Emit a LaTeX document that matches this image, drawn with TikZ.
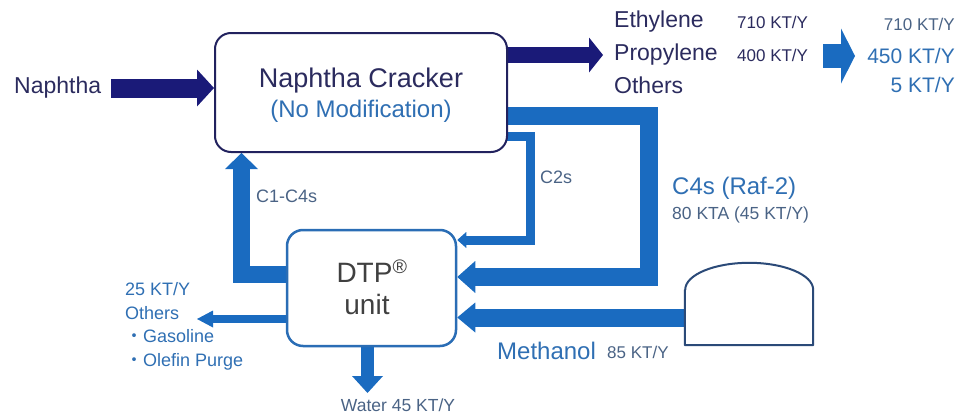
\documentclass[tikz,border=0pt]{standalone}
\usepackage{fontspec}
\setsansfont{Liberation Sans}
\newfontfamily\cjk{Noto Sans CJK JP}
\usetikzlibrary{arrows.meta, calc, backgrounds}
\definecolor{cnavy}{HTML}{1A1A78}
\definecolor{cnavyline}{HTML}{22225E}
\definecolor{cblue}{HTML}{1A6BC0}
\definecolor{cdtp}{HTML}{2A6DB5}
\definecolor{ctank}{HTML}{2B4A78}
\definecolor{cnavytxt}{HTML}{2B2B5E}
\definecolor{cbluetxt}{HTML}{2F6FB3}
\definecolor{cgreytxt}{HTML}{4A6385}
\definecolor{cdark}{HTML}{404040}
\tikzset{
  every picture/.style={font=\sffamily},
  txt/.style={inner sep=0pt, font=\sffamily\fontsize{#1}{#1}\selectfont},
  crkbox/.style={draw=cnavyline, fill=white, line width=2pt, rounded corners=16pt, minimum width=292, minimum height=119},
  dtpbox/.style={draw=cdtp, fill=white, line width=2.5pt, rounded corners=16pt, minimum width=169, minimum height=116},
  tankline/.style={draw=ctank, fill=white, line width=2pt, line join=round},
  navyflow/.style={draw=cnavy, line width=19pt, -{Triangle[length=17pt, width=37pt, line width=0pt]}},
  blueflow/.style={draw=cblue, line width=18pt, line join=miter, -{Triangle[length=18pt, width=32pt, line width=0pt]}},
  thinflow/.style={draw=cblue, line width=9pt, line join=miter, -{Triangle[length=9pt, width=16pt, line width=0pt]}},
}

\begin{document}
\begin{tikzpicture}[x=1pt, y=-1pt]
  \useasboundingbox (0,0) rectangle (964,415);
  \node[crkbox] (crk) at (361,92.5) {};
  \node[txt=27, text=cnavytxt] (crkt) at (361,81) {Naphtha Cracker};
  \node[txt=24, text=cbluetxt] (crkn) at (361,111) {(No Modification)};
  \node[dtpbox] (dtp) at (371.5,288) {};
  \node[txt=28, text=cdark] (dtpt) at (372,271) {DTP\textsuperscript{\textregistered}};
  \node[txt=28, text=cdark] (dtpu) at (367,304) {unit};
  \node[minimum width=128, minimum height=55, inner sep=0pt] (tank) at (749,317.5) {};
  \draw[tankline] (tank.north west) -- (tank.south west) -- (tank.south east) -- (tank.north east)
    arc[start angle=0, end angle=180, x radius=64pt, y radius=27pt] -- cycle;

  \node[txt=23, text=cnavytxt, anchor=west] (naph) at (14,88) {Naphtha};
  \node[txt=23, text=cnavytxt, anchor=west] (eth) at (614,22) {Ethylene};
  \node[txt=23, text=cnavytxt, anchor=west] (prop) at (614,55) {Propylene};
  \node[txt=23, text=cnavytxt, anchor=west] (oth) at (614,85) {Others};
  \node[txt=17, text=cnavytxt, anchor=west] (q710) at (737,22) {710 KT/Y};
  \node[txt=17, text=cnavytxt, anchor=west] (q400) at (737,55) {400 KT/Y};
  \node[txt=17, text=cgreytxt, anchor=east] (r710) at (955,24) {710 KT/Y};
  \node[txt=21, text=cbluetxt, anchor=east] (r450) at (955,56) {450 KT/Y};
  \node[txt=21, text=cbluetxt, anchor=east] (r5) at (955,85) {5 KT/Y};
  \node[txt=18, text=cgreytxt, anchor=west] (lc1) at (256,196) {C1-C4s};
  \node[txt=18, text=cgreytxt, anchor=west] (lc2) at (540,177) {C2s};
  \node[txt=24, text=cbluetxt, anchor=west] (lc4) at (672,188) {C4s (Raf-2)};
  \node[txt=17.5, text=cgreytxt, anchor=west] (lc4q) at (672,215) {80 KTA (45 KT/Y)};
  \node[txt=24, text=cbluetxt, anchor=west] (meth) at (497,351) {Methanol};
  \node[txt=17, text=cgreytxt, anchor=west] (methq) at (607,352) {85 KT/Y};
  \node[txt=18, text=cbluetxt, anchor=west, align=left, font=\sffamily\fontsize{18}{23.5}\selectfont] (purge) at (125,326.5)
    {25 KT/Y\\Others\\{\cjk ・}Gasoline\\{\cjk ・}Olefin Purge};
  \node[txt=17.5, text=cgreytxt] (wat) at (398,405) {Water 45 KT/Y};

  \coordinate (qa) at (823,56);
  \coordinate (qb) at (855,56);
  \coordinate (c4) at (649,277);
  \coordinate (c2) at (530,240);
  \coordinate (c1) at (241.5,274);
  \coordinate (pe) at (197,319);
  \coordinate (we) at (367.5,393);

  \begin{scope}[on background layer]
    \draw[navyflow] ([xshift=10pt]naph.east) -- (naph.east -| crk.west);
    \draw[navyflow, line width=16pt, -{Triangle[length=14pt, width=35pt, line width=0pt]}] ($(crk.east)+(-10,-37.5)$) -- ([xshift=-11pt]prop.west);
    \draw[blueflow, line width=24pt, -{Triangle[length=14pt, width=55pt, line width=0pt]}] (qa) -- (qb);
    \draw[blueflow] ($(crk.east)+(-10,23.5)$) -| (c4) -- (c4 -| dtp.east);
    \draw[thinflow] ($(crk.east)+(-10,44)$) -| (c2) -- (c2 -| dtp.east);
    \draw[blueflow, line width=17pt, -{Triangle[length=16pt, width=33pt, line width=0pt]}] ($(c1 -| dtp.west)+(8,0)$) -- (c1) -- (c1 |- crk.south);
    \draw[blueflow, -{Triangle[length=18pt, width=30pt, line width=0pt]}] (tank.west) -- (tank.west -| dtp.east);
    \draw[thinflow, line width=8pt, -{Triangle[length=16pt, width=17pt, line width=0pt]}] ($(pe -| dtp.west)+(8,0)$) -- (pe);
    \draw[blueflow, line width=13pt, -{Triangle[length=17pt, width=31pt, line width=0pt]}] ($(we |- dtp.south)+(0,-8)$) -- (we);
  \end{scope}
\end{tikzpicture}
\end{document}
